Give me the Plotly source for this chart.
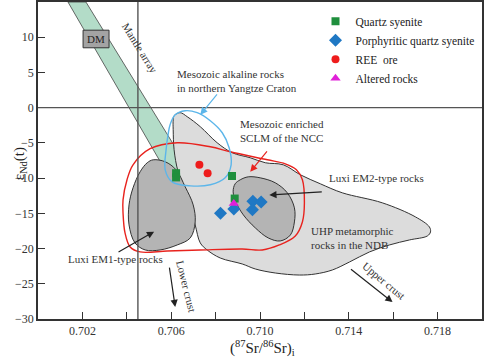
import plotly.graph_objects as go

# ---- data ----
qs_x = [0.70622, 0.70622, 0.70874, 0.70886]
qs_y = [-9.3, -9.9, -9.7, -12.9]
pqs_x = [0.70822, 0.70882, 0.70968, 0.71005, 0.70966]
pqs_y = [-15.0, -14.4, -13.3, -13.4, -14.5]
ree_x = [0.70727, 0.70764]
ree_y = [-8.1, -9.3]
alt_x = [0.70882]
alt_y = [-13.6]

# ---- reference fields (data coords) ----
band_x = [0.70135, 0.70216, 0.70686, 0.70577]
band_y = [15.0, 15.0, -9.1, -9.1]

uhp_x = [0.70613, 0.70640, 0.70672, 0.70731, 0.70807, 0.70875, 0.70956, 0.71024, 0.71105,
         0.71182, 0.71272, 0.71371, 0.71551, 0.71700, 0.71763, 0.71768, 0.71754, 0.71673,
         0.71583, 0.71493, 0.71403, 0.71326, 0.71249, 0.71177, 0.71069, 0.70979, 0.70920,
         0.70821, 0.70762, 0.70731, 0.70708, 0.70677, 0.70631, 0.70613, 0.70609, 0.70609]
uhp_y = [-1.14, -0.71, -1.28, -2.70, -4.98, -6.40, -7.11, -7.82, -8.11,
         -9.53, -10.81, -12.09, -13.51, -15.50, -16.93, -17.64, -18.21, -18.78,
         -19.49, -20.48, -21.91, -23.04, -23.61, -23.76, -23.47, -22.90, -22.19,
         -21.34, -20.20, -19.20, -16.64, -13.09, -9.10, -5.97, -3.13, -1.71]

em1_x = [0.70519, 0.70573, 0.70622, 0.70663, 0.70699, 0.70708, 0.70686, 0.70627,
         0.70550, 0.70483, 0.70437, 0.70410, 0.70410, 0.70428, 0.70460, 0.70492]
em1_y = [-7.40, -7.68, -8.82, -11.24, -13.80, -16.22, -18.49, -19.49,
         -20.20, -20.20, -19.20, -16.64, -13.80, -11.38, -9.10, -7.82]

em2_x = [0.70911, 0.70947, 0.71001, 0.71069, 0.71123, 0.71155, 0.71155, 0.71137,
         0.71091, 0.71037, 0.70979, 0.70925, 0.70893, 0.70879, 0.70888]
em2_y = [-10.24, -9.82, -9.96, -10.67, -12.09, -14.22, -16.22, -18.07,
         -18.92, -18.49, -17.07, -15.22, -13.51, -11.95, -10.81]

sclm_x = [0.70383, 0.70401, 0.70428, 0.70505, 0.70627, 0.70776, 0.70866, 0.71033,
          0.71114, 0.71164, 0.71191, 0.71200, 0.71191, 0.71159, 0.71087, 0.71010,
          0.70920, 0.70731, 0.70582, 0.70460, 0.70415, 0.70392, 0.70383]
sclm_y = [-13.09, -10.24, -8.11, -5.83, -4.98, -5.55, -6.26, -7.40,
          -7.97, -8.82, -10.24, -13.51, -16.22, -18.21, -19.49, -20.20,
          -20.06, -20.20, -20.34, -20.48, -19.77, -17.78, -14.94]

yz_x = [0.70595, 0.70618, 0.70663, 0.70717, 0.70776, 0.70830, 0.70861, 0.70870,
        0.70843, 0.70776, 0.70686, 0.70604, 0.70573, 0.70577, 0.70586]
yz_y = [-2.42, -1.00, -0.43, -0.71, -1.85, -3.56, -5.69, -8.11,
        -9.96, -10.95, -11.10, -10.53, -8.82, -5.97, -3.84]

x_ticks = [0.702, 0.704, 0.706, 0.708, 0.710, 0.712, 0.714, 0.716, 0.718]
x_ticktext = ["0.702", " ", "0.706", " ", "0.710", " ", "0.714", " ", "0.718"]
y_ticks = [-30, -25, -20, -15, -10, -5, 0, 5, 10]

FONT = "Liberation Serif"
DARK = "#333333"


def closed(a):
    return list(a) + [a[0]]


fig = go.Figure()

fig.add_trace(go.Scatter(x=closed(band_x), y=closed(band_y), mode="lines", fill="toself",
                         fillcolor="#b3dcc8", line=dict(color="#444", width=0.8),
                         showlegend=False, hoverinfo="skip"))
fig.add_trace(go.Scatter(x=closed(uhp_x), y=closed(uhp_y), mode="lines", fill="toself",
                         fillcolor="#dcdcdc", line=dict(color=DARK, width=1, shape="spline"),
                         showlegend=False, hoverinfo="skip"))
fig.add_trace(go.Scatter(x=closed(em1_x), y=closed(em1_y), mode="lines", fill="toself",
                         fillcolor="#b4b4b4", line=dict(color=DARK, width=1, shape="spline"),
                         showlegend=False, hoverinfo="skip"))
fig.add_trace(go.Scatter(x=closed(em2_x), y=closed(em2_y), mode="lines", fill="toself",
                         fillcolor="#b4b4b4", line=dict(color=DARK, width=1, shape="spline"),
                         showlegend=False, hoverinfo="skip"))
fig.add_trace(go.Scatter(x=closed(sclm_x), y=closed(sclm_y), mode="lines",
                         line=dict(color="#e8231e", width=1.4, shape="spline"),
                         showlegend=False, hoverinfo="skip"))
fig.add_trace(go.Scatter(x=closed(yz_x), y=closed(yz_y), mode="lines",
                         line=dict(color="#5cb6ea", width=1.4, shape="spline"),
                         showlegend=False, hoverinfo="skip"))

fig.add_trace(go.Scatter(x=qs_x, y=qs_y, mode="markers", name="Quartz syenite",
                         marker=dict(symbol="square", size=8, color="#1f8f3d")))
fig.add_trace(go.Scatter(x=pqs_x, y=pqs_y, mode="markers", name="Porphyritic quartz syenite",
                         marker=dict(symbol="diamond", size=10, color="#1f78c4")))
fig.add_trace(go.Scatter(x=ree_x, y=ree_y, mode="markers", name="REE  ore",
                         marker=dict(symbol="circle", size=8, color="#ee1c1c")))
fig.add_trace(go.Scatter(x=alt_x, y=alt_y, mode="markers", name="Altered rocks",
                         marker=dict(symbol="triangle-up", size=9, color="#e020d8")))

shapes = [
    dict(type="line", xref="x", yref="paper", x0=0.7045, x1=0.7045, y0=0, y1=1,
         line=dict(color="#555", width=1.4), layer="above"),
    dict(type="line", xref="paper", yref="y", x0=0, x1=1, y0=0, y1=0,
         line=dict(color="#555", width=1.4), layer="above"),
    dict(type="rect", xref="x", yref="y", x0=0.70203, x1=0.70320, y0=8.5, y1=11.0,
         fillcolor="#a3a3a3", line=dict(color="#333", width=1), layer="above"),
]

tf = dict(family=FONT, size=11, color=DARK)
arrow = dict(xref="x", yref="y", axref="x", ayref="y", text="", showarrow=True,
             arrowhead=2, arrowsize=1.2, arrowwidth=1.2)
ann = [
    dict(x=0.702615, y=9.75, text="DM", showarrow=False, font=dict(family=FONT, size=11, color="#222")),
    dict(x=0.70458, y=8.4, text="Mantle array", showarrow=False, textangle=58, font=tf),
    dict(x=0.70618, y=3.8, text="Mesozoic alkaline rocks<br>in northern Yangtze Craton",
         showarrow=False, xanchor="left", align="left", font=tf),
    dict(arrow, x=0.70731, y=-1.0, ax=0.70812, ay=2.1, arrowcolor="#5cb6ea"),
    dict(x=0.70900, y=-3.3, text="Mesozoic enriched<br>SCLM of the NCC",
         showarrow=False, xanchor="left", align="left", font=tf),
    dict(arrow, x=0.70956, y=-9.1, ax=0.71037, ay=-6.0, arrowcolor="#e8231e"),
    dict(x=0.71524, y=-9.96, text="Luxi EM2-type rocks", showarrow=False, font=tf),
    dict(arrow, x=0.71042, y=-12.4, ax=0.71285, ay=-11.95, arrowcolor="#222"),
    dict(x=0.71222, y=-18.5, text="UHP metamorphic<br>rocks in the NDB",
         showarrow=False, xanchor="left", align="left", font=tf),
    dict(x=0.70347, y=-21.5, text="Luxi EM1-type rocks", showarrow=False, font=tf),
    dict(arrow, x=0.70523, y=-17.6, ax=0.70356, ay=-20.6, arrowcolor="#222"),
    dict(x=0.70670, y=-25.4, text="Lower crust", showarrow=False, textangle=76, font=tf),
    dict(arrow, x=0.70618, y=-28.3, ax=0.70591, ay=-22.5, arrowcolor="#222"),
    dict(x=0.71560, y=-24.6, text="Upper crust", showarrow=False, textangle=40, font=tf),
    dict(arrow, x=0.71597, y=-27.6, ax=0.71403, ay=-22.76, arrowcolor="#222"),
    dict(x=-0.066, y=0.49, xref="paper", yref="paper", text="ε<sub>Nd</sub>(t)", textangle=-90,
         showarrow=False, font=dict(family=FONT, size=15, color="#222")),
    dict(x=0.505, y=-0.09, xref="paper", yref="paper", yanchor="middle",
         text="(<sup>87</sup>Sr/<sup>86</sup>Sr)<sub>i</sub>",
         showarrow=False, font=dict(family=FONT, size=15, color="#222")),
]

fig.update_layout(
    template="none",
    width=484, height=357,
    margin=dict(l=38, r=2, t=2, b=38, autoexpand=False),
    paper_bgcolor="white", plot_bgcolor="white",
    font=dict(family=FONT, size=12, color=DARK),
    shapes=shapes, annotations=ann,
    legend=dict(x=0.625, y=0.985, xanchor="left", yanchor="top", bgcolor="rgba(0,0,0,0)",
                font=dict(family=FONT, size=11.5, color="#222"), tracegroupgap=0,
                itemwidth=30),
    xaxis=dict(range=[0.700, 0.720], tickvals=x_ticks, ticktext=x_ticktext, automargin=False,
               ticks="inside", ticklen=7, tickcolor=DARK, tickwidth=1.2,
               showgrid=False, zeroline=False, showline=True, linecolor=DARK, linewidth=1.5,
               mirror=True, tickfont=dict(family=FONT, size=12, color=DARK)),
    yaxis=dict(range=[-30, 15], tickvals=y_ticks, ticks="inside", ticklen=7, tickcolor=DARK,
               tickwidth=1.2, automargin=False,
               showgrid=False, zeroline=False, showline=True, linecolor=DARK,
               linewidth=1.5, mirror=True, tickfont=dict(family=FONT, size=12, color=DARK)),
)

fig.write_html("out.html", config={"displayModeBar": False},
               post_script="document.body.style.margin='0';document.body.style.overflow='hidden';")
